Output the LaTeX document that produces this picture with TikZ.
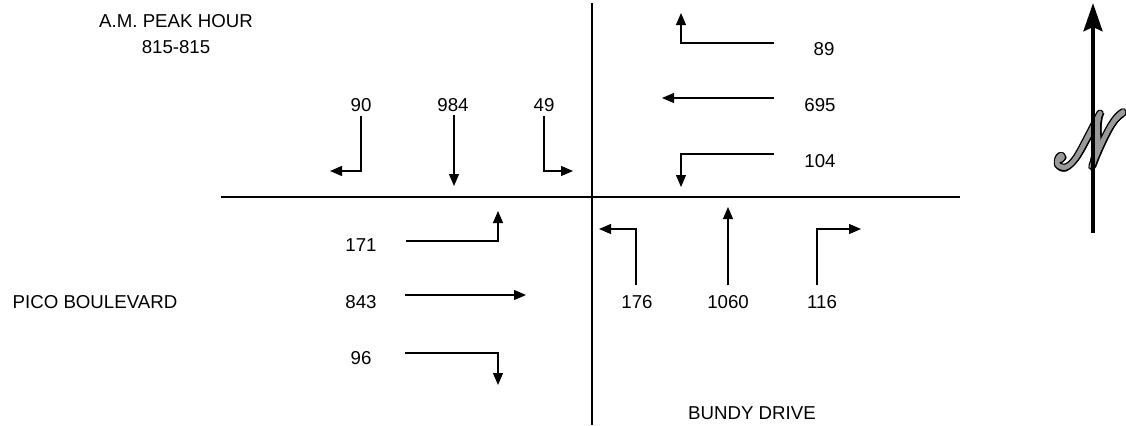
\documentclass[tikz,border=0pt]{standalone}
\usepackage{fontspec}
\setmainfont{Liberation Sans}
\usepackage{mathrsfs}
\usetikzlibrary{arrows.meta}
\newcommand{\nglyph}{\scalebox{4.3}[5.8]{$\mathscr{N}$}}
\tikzset{
  >={Triangle[length=9pt,width=7.5pt]},
  road/.style={line width=1.5pt},
  mv/.style={->,line width=0.9pt},
  vol/.style={font=\fontsize{14}{16}\selectfont,anchor=base,inner sep=0pt},
  nlayer/.style={inner sep=0pt,text=black!40},
  north/.style={line width=3.5pt,-{Stealth[length=21pt,width=14pt,inset=3pt]}},
}

\begin{document}
\begin{tikzpicture}[x=0.75pt,y=-0.75pt]
  \useasboundingbox (0,0) rectangle (1126,425);
  % roads
  \draw[road] (592,3) -- (592,425);
  \draw[road] (221,197) -- (960,197);
  % titles
  \node[vol] (title) at (176,27) {A.M. PEAK HOUR};
  \node[vol] (hour) at (176,53) {815-815};
  \node[vol] (pico) at (95,308) {PICO BOULEVARD};
  \node[vol] (bundy) at (752,419) {BUNDY DRIVE};
  % southbound
  \node[vol] (v90) at (361,111) {90};
  \node[vol] (v984) at (453,111) {984};
  \node[vol] (v49) at (544,111) {49};
  \draw[mv] (361,116) -- (361,171) -- (330,171);
  \draw[mv] (454,115) -- (454,186);
  \draw[mv] (544,116) -- (544,171) -- (573,171);
  % westbound
  \node[vol] (v89) at (824,55) {89};
  \node[vol] (v695) at (820,111) {695};
  \node[vol] (v104) at (820,167) {104};
  \draw[mv] (774,43) -- (681,43) -- (681,13);
  \draw[mv] (774,98) -- (662,98);
  \draw[mv] (774,154) -- (681,154) -- (681,187);
  % northbound
  \node[vol] (v176) at (637,308) {176};
  \node[vol] (v1060) at (728,308) {1060};
  \node[vol] (v116) at (822,308) {116};
  \draw[mv] (636,285) -- (636,229) -- (599,229);
  \draw[mv] (728,285) -- (728,207);
  \draw[mv] (817,285) -- (817,229) -- (861,229);
  % eastbound
  \node[vol] (v171) at (361,251) {171};
  \node[vol] (v843) at (361,308) {843};
  \node[vol] (v96) at (361,364) {96};
  \draw[mv] (406,241) -- (498,241) -- (498,211);
  \draw[mv] (405,295) -- (526,295);
  \draw[mv] (405,353) -- (498,353) -- (498,385);
  % north arrow (outlined letter, then shaft)
  \foreach \a in {0,20,...,340}
    \node[nlayer,text=black,shift={(\a:3)}] at (1091,140) {\nglyph};
  \foreach \a in {0,30,...,330}
    \node[nlayer,shift={(\a:1.6)}] at (1091,140) {\nglyph};
  \node[nlayer] (nsym) at (1091,140) {\nglyph};
  \draw[north] (1093,233) -- (1093,3);
\end{tikzpicture}
\end{document}
